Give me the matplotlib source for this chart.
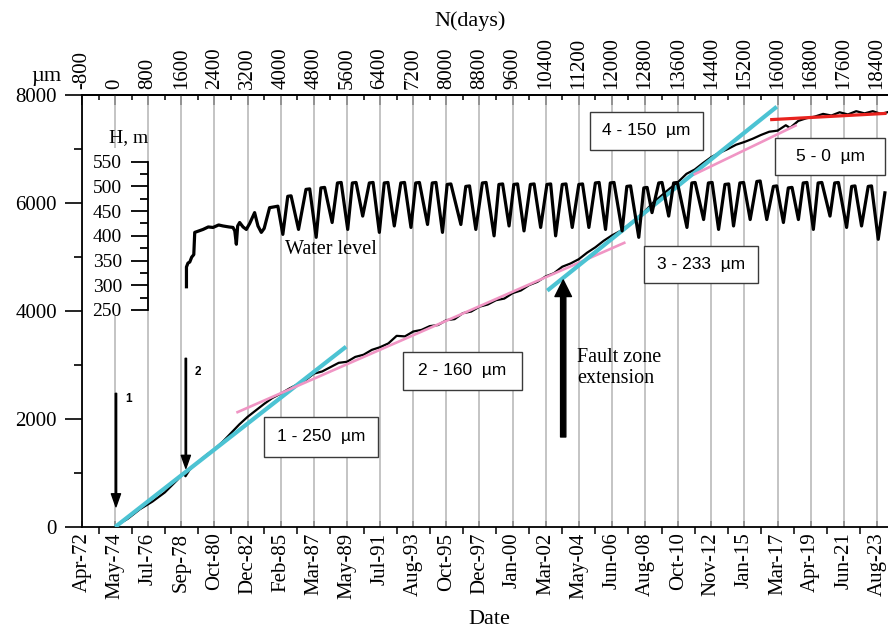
import matplotlib
matplotlib.use('Agg')
import matplotlib.pyplot as plt
from matplotlib.ticker import FixedLocator
from matplotlib.patches import Rectangle

plt.rcParams['font.family'] = ['Liberation Serif', 'DejaVu Serif']

# ---------------- data ----------------
top_labels = ['-800', '0', '800', '1600', '2400', '3200', '4000', '4800', '5600',
              '6400', '7200', '8000', '8800', '9600', '10400', '11200', '12000',
              '12800', '13600', '14400', '15200', '16000', '16800', '17600', '18400']
date_labels = ['Apr-72', 'May-74', 'Jul-76', 'Sep-78', 'Oct-80', 'Dec-82', 'Feb-85',
               'Mar-87', 'May-89', 'Jul-91', 'Aug-93', 'Oct-95', 'Dec-97', 'Jan-00',
               'Mar-02', 'May-04', 'Jun-06', 'Aug-08', 'Oct-10', 'Nov-12', 'Jan-15',
               'Mar-17', 'Apr-19', 'Jun-21', 'Aug-23']
y_ticks = [0, 2000, 4000, 6000, 8000]
y_minor = [1000, 3000, 5000, 7000]
h_ticks = [250, 300, 350, 400, 450, 500, 550]
h_minor = [275, 325, 375, 425, 475, 525]

# cumulative deformation (days, micrometres)
def_days = [100, 300, 600, 900, 1200, 1500, 1650, 1700, 1800, 2000, 2200, 2400, 2600,
            2800, 3000, 3200, 3400, 3600, 3800, 4000, 4200, 4400, 4600, 4800, 5000,
            5200, 5400, 5600, 5800, 6000, 6200, 6400, 6600, 6800, 7000, 7200, 7400,
            7600, 7800, 8000, 8200, 8400, 8600, 8800, 9000, 9200, 9400, 9600, 9800,
            10000, 10200, 10400, 10600, 10800, 11000, 11200, 11400, 11600, 11800,
            12000, 12200, 12400, 12600, 12800, 13000, 13200, 13400, 13600, 13800,
            14000, 14200, 14400, 14600, 14800, 15000, 15200, 15400, 15600, 15800,
            16000, 16200, 16300, 16500, 16700, 16900, 17100, 17300, 17500, 17700,
            17900, 18100, 18300, 18500, 18650]
def_um = [60, 150, 330, 470, 640, 870, 1000, 940, 1060, 1200, 1330, 1440, 1580,
          1740, 1900, 2040, 2160, 2280, 2390, 2470, 2560, 2640, 2720, 2840, 2880,
          2960, 3040, 3060, 3150, 3190, 3280, 3330, 3400, 3540, 3530, 3620, 3650,
          3720, 3740, 3830, 3850, 3960, 3990, 4080, 4120, 4200, 4230, 4330, 4380,
          4480, 4540, 4640, 4700, 4820, 4880, 4960, 5080, 5180, 5300,
          5400, 5480, 5590, 5720, 5850, 6010, 6140, 6270, 6390, 6540,
          6620, 6740, 6850, 6930, 7000, 7080, 7130, 7190, 7260, 7320,
          7340, 7440, 7390, 7520, 7570, 7600, 7650, 7620, 7680, 7640,
          7700, 7660, 7700, 7650, 7680]

# water level (days, H in m): early record, then seasonal plateaus and troughs
wl_days = [1723, 1723, 1760, 1803, 1850, 1900, 1923, 2124, 2250, 2365, 2500, 2606,
           2750, 2847, 2890, 2928, 2960, 3008, 3090, 3169, 3250, 3369, 3450, 3531,
           3600, 3731, 3931, 4051,
           4170, 4250, 4430, 4610, 4700, 4856, 4970, 5060, 5242, 5370, 5460, 5618,
           5730, 5820, 5980, 6140, 6230, 6382, 6500, 6590, 6743, 6900, 6990, 7146,
           7260, 7350, 7546, 7660, 7750, 7907, 8020, 8110, 8351, 8470, 8560, 8712,
           8870, 8960, 9153, 9270, 9360, 9515, 9630, 9720, 9876, 10030, 10120, 10278,
           10430, 10520, 10640, 10800, 10890, 11041, 11200, 11290, 11443, 11600,
           11690, 11845, 11960, 12050, 12246, 12360, 12450, 12648, 12770, 12850,
           12968, 13130, 13210, 13371, 13490, 13580, 13812, 13930, 14010, 14214,
           14330, 14420, 14576, 14730, 14820, 14937, 15090, 15180, 15339, 15500,
           15580, 15740, 15900, 15980, 16142, 16260, 16350, 16504, 16620, 16710,
           16865, 16980, 17070, 17267, 17380, 17470, 17668, 17790, 17870, 18029,
           18190, 18270, 18432, 18593]
wl_h = [297, 337, 345, 347, 357, 362, 407, 413, 418, 417, 422, 420,
        418, 417, 410, 383, 420, 427, 418, 413, 425, 447, 420, 407,
        415, 457, 460, 403,
        480, 481, 413, 494, 495, 397, 497, 498, 427, 507, 508, 413,
        507, 508, 440, 507, 508, 407, 507, 508, 420, 507, 508, 417,
        507, 508, 423, 507, 508, 407, 504, 505, 423, 500, 501, 413,
        507, 508, 400, 504, 505, 420, 504, 505, 410, 504, 505, 417,
        504, 505, 400, 504, 505, 417, 504, 505, 417, 507,
        508, 413, 507, 508, 410, 500, 501, 397, 497, 498,
        447, 507, 508, 440, 507, 508, 417, 507, 508, 433,
        507, 508, 413, 504, 505, 420, 507, 508, 433, 510,
        511, 433, 500, 501, 427, 497, 498, 433, 507, 508,
        413, 507, 508, 440, 507, 508, 417, 500, 501, 420,
        500, 501, 393, 487]

# fitted trend segments: (start day, start um, end day, end um)
seg_start_days = [0, 2928, 10438, 13973, 15821]
seg_start_um = [0, 2117, 4377, 6524, 7543]
seg_end_days = [5579, 12327, 15982, 16463, 18633]
seg_end_um = [3339, 5272, 7783, 7444, 7660]
seg_colors = ['#4cc3d3', '#f095c4', '#4cc3d3', '#f095c4', '#e8231f']
seg_widths = [3.0, 1.9, 3.0, 1.9, 2.3]

box_labels = ['1 - 250  µm', '2 - 160  µm', '3 - 233  µm', '4 - 150  µm', '5 - 0  µm']

# ---------------- layout helpers ----------------
W, H = 888, 633
AX_L, AX_R, AX_T, AX_B = 82, 888, 95, 527


def fx(px):
    return (px - AX_L) / (AX_R - AX_L)


def fy(py):
    return (AX_B - py) / (AX_B - AX_T)


fig = plt.figure(figsize=(W / 100, H / 100), dpi=100)
ax = fig.add_axes([AX_L / W, 1 - AX_B / H, (AX_R - AX_L) / W, (AX_B - AX_T) / H])

tick_days = [int(s) for s in top_labels]
minor_days = [d + 400 for d in tick_days]

ax.set_xlim(-800, 18668)
ax.set_ylim(0, 8000)
ax.set_axisbelow(True)
ax.grid(True, axis='x', which='major', color='#b4b4b4', lw=1.1)

ax.set_xticks(tick_days)
ax.set_xticklabels(date_labels, rotation=90)
ax.xaxis.set_minor_locator(FixedLocator(minor_days))
ax.tick_params(axis='x', which='major', direction='in', length=4, width=1.2,
               color='#8a8a8a', labelsize=15, pad=4)
ax.tick_params(axis='x', which='minor', direction='out', length=5, width=1.1,
               color='black')

ax.set_yticks(y_ticks)
ax.yaxis.set_minor_locator(FixedLocator(y_minor))
ax.tick_params(axis='y', which='major', direction='out', length=12, width=1.2,
               labelsize=15, pad=6)
ax.tick_params(axis='y', which='minor', direction='out', length=6, width=1.2)

for s in ['left', 'bottom', 'top']:
    ax.spines[s].set_linewidth(1.3)
ax.spines['right'].set_visible(False)

# top axis N(days)
secax = ax.secondary_xaxis('top')
secax.set_xticks(tick_days)
secax.set_xticklabels(top_labels, rotation=90)
secax.xaxis.set_minor_locator(FixedLocator(minor_days))
secax.tick_params(axis='x', which='major', direction='in', length=7, width=1.2,
                  labelsize=15, pad=4)
secax.tick_params(axis='x', which='minor', direction='in', length=3.5, width=1.1)
secax.spines['top'].set_linewidth(1.3)

# white patch hiding grid behind inner H axis labels
ax.add_patch(Rectangle((fx(96), fy(316)), fx(147) - fx(96), fy(148) - fy(316),
                       transform=ax.transAxes, facecolor='white', edgecolor='none',
                       zorder=0.8))

# deformation curve
ax.plot(def_days, def_um, color='black', lw=1.6, zorder=3)

# trend lines
for i in range(len(seg_start_days)):
    ax.plot([seg_start_days[i], seg_end_days[i]], [seg_start_um[i], seg_end_um[i]],
            color=seg_colors[i], lw=seg_widths[i], solid_capstyle='butt', zorder=4)

# arrows 1, 2
thin = dict(arrowstyle='simple,head_width=0.6,head_length=0.85,tail_width=0.09',
            color='black', shrinkA=0, shrinkB=0, mutation_scale=11)
ax.annotate('', xy=(20, 375), xytext=(20, 2475), arrowprops=thin, zorder=6)
ax.annotate('', xy=(1708, 1087), xytext=(1708, 3124), arrowprops=thin, zorder=6)
ax.text(316, 2364, '1', family='Liberation Sans', weight='bold', size=8.5,
        ha='center', va='center')
ax.text(2005, 2876, '2', family='Liberation Sans', weight='bold', size=8.5,
        ha='center', va='center')

# fault zone arrow
thick = dict(arrowstyle='simple,head_width=0.85,head_length=0.85,tail_width=0.27',
             color='black', shrinkA=0, shrinkB=0, mutation_scale=14)
ax.annotate('', xy=(10823, 4574), xytext=(10823, 1667), arrowprops=thick, zorder=6)
ax.text(fx(577), fy(368), 'Fault zone\nextension', transform=ax.transAxes,
        ha='left', va='center', size=14.5, linespacing=1.1)

# boxes
box_px = [(264, 417, 378, 457), (403, 352, 522, 390), (644, 246, 758, 283),
          (590, 112, 703, 150), (775, 138, 885, 175)]
for (x0, y0, x1, y1), lab in zip(box_px, box_labels):
    ax.add_patch(Rectangle((fx(x0), fy(y1)), fx(x1) - fx(x0), fy(y0) - fy(y1),
                           transform=ax.transAxes, facecolor='white',
                           edgecolor='#3a3a3a', lw=1.0, zorder=7))
    ax.text((fx(x0) + fx(x1)) / 2, (fy(y0) + fy(y1)) / 2, lab,
            transform=ax.transAxes, ha='center', va='center', size=12.5,
            family='Liberation Sans', zorder=8)

# inner water-level axis
axH = fig.add_axes(ax.get_position(), sharex=ax)
axH.patch.set_visible(False)
H_lo = 250 - fy(310) * 300 / (fy(161.7) - fy(310))
H_hi = H_lo + 300 / (fy(161.7) - fy(310))
axH.set_ylim(H_lo, H_hi)
for s in ['right', 'top', 'bottom']:
    axH.spines[s].set_visible(False)
axH.spines['left'].set_position(('data', 800))
axH.spines['left'].set_bounds(250, 550)
axH.spines['left'].set_linewidth(1.3)
axH.set_yticks(h_ticks)
axH.yaxis.set_minor_locator(FixedLocator(h_minor))
axH.tick_params(axis='y', which='major', direction='out', length=12, width=1.3,
                labelsize=14, pad=7)
axH.tick_params(axis='y', which='minor', direction='out', length=6, width=1.3)
axH.tick_params(axis='x', which='both', bottom=False, top=False,
                labelbottom=False, labeltop=False)
axH.plot(wl_days, wl_h, color='black', lw=2.3, solid_joinstyle='round')

ax.text(fx(148), fy(137.5), 'H, m', transform=ax.transAxes, ha='right',
        va='center', size=14)
ax.text(fx(285), fy(249), 'Water level', transform=ax.transAxes, ha='left',
        va='center', size=14.5)

# figure labels
fig.text(46 / W, 1 - 77 / H, 'µm', ha='center', va='center', size=16)
fig.text(470 / W, 1 - 21 / H, 'N(days)', ha='center', va='center', size=16)
fig.text(489 / W, 1 - 620 / H, 'Date', ha='center', va='center', size=16)

fig.savefig('out.png', dpi=100)
